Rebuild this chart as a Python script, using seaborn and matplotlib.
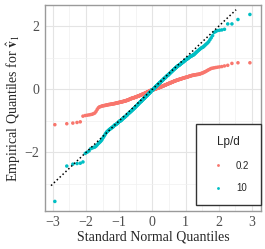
from statistics import NormalDist
import numpy as np
import pandas as pd
import seaborn as sns
from matplotlib import pyplot as plt
from matplotlib.ticker import MultipleLocator

# sorted sample values, one array per Lp/d group
lpd_02 = [
    -1.12, -1.09, -1.07, -1.05, -1.03, -0.85, -0.83, -0.82, -0.81, -0.80,
    -0.79, -0.77, -0.75, -0.70, -0.64, -0.59, -0.56, -0.55, -0.54, -0.53,
    -0.52, -0.52, -0.51, -0.51, -0.50, -0.50, -0.49, -0.49, -0.48, -0.48,
    -0.48, -0.47, -0.47, -0.47, -0.46, -0.46, -0.46, -0.45, -0.45, -0.45,
    -0.44, -0.44, -0.43, -0.43, -0.43, -0.42, -0.42, -0.42, -0.41, -0.41,
    -0.41, -0.40, -0.40, -0.40, -0.39, -0.39, -0.39, -0.38, -0.38, -0.38,
    -0.37, -0.37, -0.37, -0.36, -0.36, -0.35, -0.35, -0.35, -0.34, -0.34,
    -0.33, -0.33, -0.32, -0.32, -0.31, -0.31, -0.30, -0.30, -0.29, -0.29,
    -0.29, -0.28, -0.28, -0.28, -0.27, -0.27, -0.27, -0.26, -0.26, -0.26,
    -0.25, -0.25, -0.25, -0.24, -0.24, -0.23, -0.23, -0.23, -0.22, -0.22,
    -0.22, -0.21, -0.21, -0.20, -0.20, -0.20, -0.19, -0.19, -0.18, -0.18,
    -0.18, -0.17, -0.17, -0.16, -0.16, -0.16, -0.15, -0.15, -0.14, -0.14,
    -0.14, -0.13, -0.13, -0.12, -0.12, -0.11, -0.11, -0.11, -0.10, -0.10,
    -0.09, -0.09, -0.08, -0.08, -0.08, -0.07, -0.07, -0.06, -0.06, -0.05,
    -0.05, -0.05, -0.04, -0.04, -0.03, -0.03, -0.03, -0.02, -0.02, -0.01,
    -0.03, -0.02, -0.02, -0.01, -0.01, -0.01, 0.00, 0.00, 0.00, 0.01,
    0.01, 0.01, 0.02, 0.02, 0.02, 0.03, 0.03, 0.03, 0.04, 0.04,
    0.04, 0.04, 0.05, 0.05, 0.05, 0.06, 0.06, 0.07, 0.07, 0.07,
    0.08, 0.08, 0.08, 0.09, 0.09, 0.10, 0.10, 0.10, 0.11, 0.11,
    0.12, 0.12, 0.12, 0.13, 0.13, 0.14, 0.14, 0.14, 0.15, 0.15,
    0.16, 0.16, 0.16, 0.17, 0.17, 0.18, 0.18, 0.19, 0.19, 0.19,
    0.20, 0.20, 0.21, 0.21, 0.22, 0.22, 0.22, 0.23, 0.23, 0.24,
    0.24, 0.25, 0.25, 0.26, 0.26, 0.27, 0.27, 0.27, 0.28, 0.28,
    0.29, 0.29, 0.29, 0.30, 0.30, 0.31, 0.31, 0.31, 0.32, 0.32,
    0.33, 0.33, 0.33, 0.34, 0.34, 0.35, 0.35, 0.35, 0.36, 0.36,
    0.37, 0.37, 0.38, 0.38, 0.38, 0.39, 0.39, 0.40, 0.40, 0.41,
    0.42, 0.42, 0.42, 0.43, 0.44, 0.44, 0.44, 0.45, 0.45, 0.46,
    0.46, 0.46, 0.47, 0.47, 0.47, 0.48, 0.48, 0.49, 0.50, 0.51,
    0.52, 0.53, 0.55, 0.56, 0.58, 0.60, 0.62, 0.64, 0.66, 0.67,
    0.68, 0.69, 0.70, 0.71, 0.72, 0.74, 0.76, 0.82, 0.84, 0.84,
]
lpd_10 = [
    -3.55, -2.43, -2.37, -2.35, -2.34, -2.30, -2.03, -1.99, -1.95, -1.88,
    -1.86, -1.84, -1.83, -1.80, -1.76, -1.72, -1.69, -1.66, -1.63, -1.59,
    -1.54, -1.50, -1.46, -1.42, -1.38, -1.35, -1.33, -1.31, -1.29, -1.27,
    -1.26, -1.24, -1.23, -1.21, -1.20, -1.19, -1.17, -1.15, -1.13, -1.12,
    -1.12, -1.11, -1.09, -1.08, -1.07, -1.05, -1.04, -1.02, -1.01, -1.00,
    -1.00, -0.99, -0.98, -0.96, -0.95, -0.94, -0.92, -0.91, -0.90, -0.89,
    -0.89, -0.87, -0.86, -0.85, -0.84, -0.83, -0.82, -0.81, -0.79, -0.78,
    -0.77, -0.76, -0.75, -0.74, -0.73, -0.72, -0.71, -0.70, -0.69, -0.68,
    -0.67, -0.66, -0.65, -0.64, -0.63, -0.62, -0.61, -0.60, -0.59, -0.58,
    -0.57, -0.56, -0.55, -0.54, -0.53, -0.52, -0.51, -0.50, -0.49, -0.48,
    -0.47, -0.46, -0.45, -0.44, -0.43, -0.42, -0.41, -0.40, -0.39, -0.39,
    -0.38, -0.37, -0.36, -0.35, -0.34, -0.33, -0.32, -0.31, -0.30, -0.30,
    -0.29, -0.28, -0.27, -0.26, -0.25, -0.24, -0.23, -0.22, -0.21, -0.21,
    -0.20, -0.19, -0.18, -0.17, -0.16, -0.15, -0.14, -0.13, -0.12, -0.12,
    -0.11, -0.10, -0.09, -0.08, -0.07, -0.06, -0.05, -0.04, -0.03, -0.03,
    -0.02, -0.01, 0.00, 0.01, 0.01, 0.02, 0.03, 0.04, 0.05, 0.06,
    0.07, 0.08, 0.09, 0.10, 0.10, 0.11, 0.12, 0.13, 0.14, 0.15,
    0.15, 0.16, 0.17, 0.18, 0.19, 0.20, 0.21, 0.21, 0.22, 0.23,
    0.24, 0.25, 0.26, 0.27, 0.27, 0.28, 0.29, 0.30, 0.31, 0.32,
    0.33, 0.34, 0.35, 0.35, 0.36, 0.37, 0.38, 0.39, 0.40, 0.41,
    0.42, 0.43, 0.44, 0.44, 0.45, 0.46, 0.47, 0.48, 0.49, 0.50,
    0.51, 0.52, 0.53, 0.54, 0.55, 0.56, 0.57, 0.58, 0.59, 0.60,
    0.61, 0.62, 0.63, 0.64, 0.65, 0.66, 0.67, 0.68, 0.69, 0.70,
    0.71, 0.72, 0.73, 0.74, 0.75, 0.75, 0.76, 0.77, 0.78, 0.79,
    0.80, 0.81, 0.82, 0.83, 0.84, 0.85, 0.86, 0.87, 0.88, 0.89,
    0.91, 0.92, 0.93, 0.94, 0.95, 0.96, 0.97, 0.98, 0.99, 1.01,
    1.02, 1.03, 1.04, 1.05, 1.06, 1.07, 1.08, 1.09, 1.10, 1.12,
    1.14, 1.16, 1.18, 1.20, 1.22, 1.24, 1.26, 1.28, 1.30, 1.32,
    1.33, 1.35, 1.38, 1.41, 1.44, 1.47, 1.51, 1.57, 1.63, 1.70,
    1.80, 1.83, 1.86, 1.87, 1.88, 1.90, 2.07, 2.07, 2.21, 2.37,
]
groups = ["0.2", "10"]
ref_line = [-3.05, 2.52]     # identity line, drawn y = x between these
colors = ["#F8766D", "#00BFC4"]


def normal_scores(vals):
    # ppoints like R's qqnorm: (i - 0.5) / n for n > 10
    n = len(vals)
    nd = NormalDist()
    return [nd.inv_cdf((i + 0.5) / n) for i in range(n)]


frames = []
for g, vals in zip(groups, [lpd_02, lpd_10]):
    frames.append(pd.DataFrame({"theo": normal_scores(vals), "emp": sorted(vals), "Lp/d": g}))
df = pd.concat(frames, ignore_index=True)

sns.set_style("whitegrid")
plt.rcParams["font.family"] = ["Liberation Serif", "DejaVu Serif"]
plt.rcParams["mathtext.fontset"] = "stix"

fig = plt.figure(figsize=(2.65, 2.49), dpi=100)
ax = fig.add_axes([0.170, 0.153, 0.815, 0.827])

ax.plot(ref_line, ref_line, color="black", lw=1.1, ls=(0, (1, 1.6)), zorder=3)
sns.scatterplot(data=df, x="theo", y="emp", hue="Lp/d", hue_order=groups,
                palette=colors, s=6.5, linewidth=0, ax=ax, zorder=2)

ax.set_xlim(-3.23, 3.27)
ax.set_ylim(-3.85, 2.67)
ax.xaxis.set_major_locator(MultipleLocator(1))
ax.xaxis.set_minor_locator(MultipleLocator(0.5))
ax.yaxis.set_major_locator(MultipleLocator(2))
ax.yaxis.set_minor_locator(MultipleLocator(1))
ax.grid(which="major", color="#E4E4E4", lw=0.8)
ax.grid(which="minor", color="#F0F0F0", lw=0.5)
ax.set_axisbelow(True)
for s in ax.spines.values():
    s.set_color("#9A9A9A")
    s.set_linewidth(1.0)
ax.tick_params(which="major", length=2.5, width=0.8, color="#555555",
               labelsize=10, labelcolor="#4D4D4D", pad=1.5)
ax.tick_params(which="minor", length=0)
ax.set_xlabel("Standard Normal Quantiles", fontsize=10, labelpad=1)
ax.set_ylabel(r"Empirical Quantiles for $\hat{\mathbf{v}}_1$", fontsize=10, labelpad=1)

leg = ax.legend(title="Lp/d", loc="lower right", bbox_to_anchor=(1.0, 0.029),
                frameon=True, fancybox=False, fontsize=7, title_fontsize=8.5,
                markerscale=0.8, labelspacing=1.3, borderpad=1.2,
                handlelength=2.0, handletextpad=0.9, borderaxespad=0)
leg.get_frame().set_edgecolor("#333333")
leg.get_frame().set_linewidth(1.0)
leg.get_frame().set_alpha(1)
for t in [leg.get_title()] + leg.get_texts():
    t.set_family(["Liberation Sans", "DejaVu Sans"])

fig.savefig("out.png", dpi=100)
